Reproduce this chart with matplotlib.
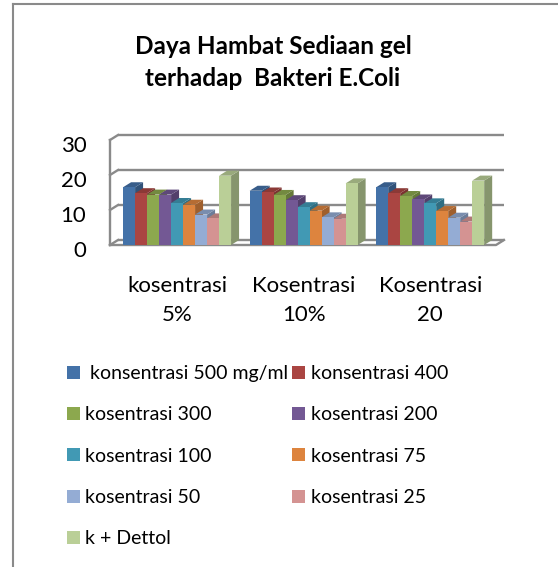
import matplotlib
matplotlib.use("Agg")
from matplotlib import pyplot as plt
from matplotlib.patches import Polygon, Rectangle
from matplotlib.lines import Line2D
import matplotlib.transforms as mtransforms

plt.rcParams['font.family'] = ['Lato', 'DejaVu Sans']

# data
categories = ["kosentrasi\n5%", "Kosentrasi\n10%", "Kosentrasi\n20"]
series = [" konsentrasi 500 mg/ml", "konsentrasi 400", "kosentrasi 300", "kosentrasi 200",
          "kosentrasi 100", "kosentrasi 75", "kosentrasi 50", "kosentrasi 25", "k + Dettol"]
values = [
    [16.5, 15.5, 16.5],   # 500
    [14.8, 15.0, 14.8],   # 400
    [14.4, 14.3, 14.0],   # 300
    [14.4, 12.8, 13.0],   # 200
    [12.0, 10.8, 11.9],   # 100
    [11.5, 9.8, 9.7],     # 75
    [8.7, 7.9, 7.8],      # 50
    [7.6, 7.5, 6.7],      # 25
    [19.8, 17.6, 18.4],   # dettol
]
colors = ['#4472A8', '#AA4542', '#8CA84E', '#735894', '#4199B4',
          '#DD843E', '#94ACD4', '#D49392', '#BACF97']
yticks = [0, 10, 20, 30]

W, H = 558, 567
fig = plt.figure(figsize=(W / 100, H / 100), dpi=100)

# outer frame (cut off at right and bottom)
fig.add_artist(Line2D([13 / W, 13 / W], [0, 1 - 4 / H], color='#8a8a8a', lw=1.5))
fig.add_artist(Line2D([13 / W, 1], [1 - 4 / H, 1 - 4 / H], color='#8a8a8a', lw=1.5))

fig.text(273 / W, 1 - 46 / H, "Daya Hambat Sediaan gel", ha='center', va='center',
         fontsize=17.5, fontweight='bold')
fig.text(273 / W, 1 - 78 / H, "terhadap  Bakteri E.Coli", ha='center', va='center',
         fontsize=17.5, fontweight='bold')

left, right, base, top = 110, 496, 245, 140
ax = fig.add_axes([left / W, 1 - base / H, (right - left) / W, (base - top) / H])
x0, x1 = -0.53, 2.52
ax.set_xlim(x0, x1)
ax.set_ylim(0, 30)
for s in ax.spines.values():
    s.set_visible(False)

# pixel -> data for the fake depth
px = (x1 - x0) / (right - left)
py = 30 / (base - top)
dx, dy = 8 * px, 5 * py
grid = '#8a8a8a'

# back wall gridlines + left wall ticks
for v in yticks:
    ax.plot([x0 + dx, x1 + dx], [v + dy, v + dy], color=grid, lw=1.7, zorder=1, clip_on=False,
            solid_capstyle='butt')
    ax.plot([x0, x0 + dx], [v, v + dy], color=grid, lw=1.7, zorder=1, clip_on=False)
ax.plot([x0, x0], [0, 30], color=grid, lw=1.7, zorder=1, clip_on=False)
# floor front edge
ax.plot([x0, x1, x1 + dx], [0, 0, dy], color=grid, lw=1.7, zorder=1, clip_on=False)


def shade(c, f):
    r, g, b = matplotlib.colors.to_rgb(c)
    return (r * f, g * f, b * f)


w = 0.0948
z = 2
for g in range(len(categories)):
    for i in range(len(series)):
        h = values[i][g]
        xl = g + (i - 4) * w - w / 2
        ax.add_patch(Polygon([(xl + w, 0), (xl + w + dx, dy), (xl + w + dx, h + dy), (xl + w, h)],
                             closed=True, fc=shade(colors[i], 0.72), ec='none', zorder=z,
                             clip_on=False))
        ax.add_patch(Polygon([(xl, h), (xl + dx, h + dy), (xl + w + dx, h + dy), (xl + w, h)],
                             closed=True, fc=shade(colors[i], 0.82), ec='none', zorder=z,
                             clip_on=False))
        ax.add_patch(Rectangle((xl, 0), w, h, fc=colors[i], ec='none', zorder=z + 1,
                               clip_on=False))
        z += 2

ax.set_yticks(yticks)
ax.set_yticklabels([str(v) for v in yticks], fontsize=16)
ax.set_xticks(range(len(categories)))
ax.set_xticklabels(categories, fontsize=16, linespacing=1.6)
ax.tick_params(axis='both', length=0)
ax.tick_params(axis='y', pad=17)
ax.tick_params(axis='x', pad=22)
shift = mtransforms.ScaledTranslation(0, -4 / 100, fig.dpi_scale_trans)
for lab in ax.get_yticklabels():
    lab.set_transform(lab.get_transform() + shift)

# legend, row-wise order in two columns
handles = [Rectangle((0, 0), 1, 1, fc=c, ec='none') for c in colors]
order = [0, 2, 4, 6, 8, 1, 3, 5, 7]
fig.legend([handles[k] for k in order], [series[k] for k in order], ncol=2,
           loc='upper left', bbox_to_anchor=(67 / W, 1 - 365 / H), frameon=False,
           fontsize=14, handlelength=0.65, handleheight=0.65, handletextpad=0.3,
           labelspacing=1.25, columnspacing=0.2, borderaxespad=0, borderpad=0)

fig.savefig("out.png", dpi=100)
